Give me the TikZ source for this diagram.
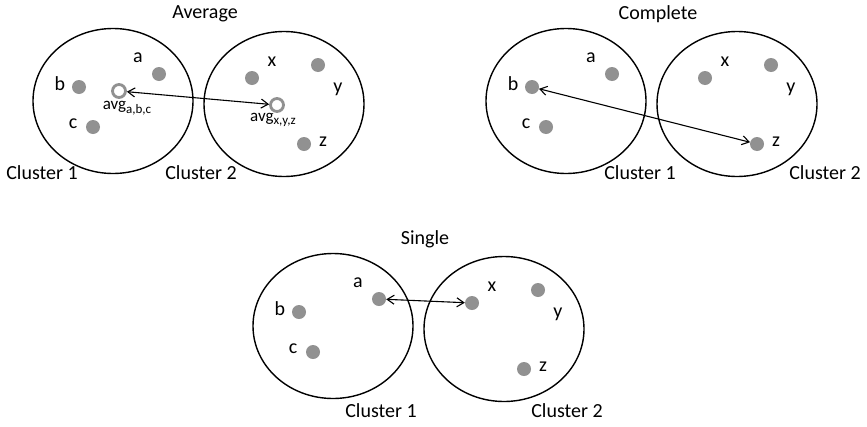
\documentclass[tikz,border=0pt]{standalone}
\usepackage{fontspec}
\setmainfont{Carlito}
\usetikzlibrary{arrows.meta,positioning,shapes.geometric}
\definecolor{dotgray}{RGB}{145,145,145}
\newcommand{\lowtag}[1]{\raisebox{-3.5pt}{\fontsize{13}{15}\selectfont #1}}
\tikzset{clus/.style={draw,ellipse,line width=1.4pt,minimum width=160pt,minimum height=145pt,inner sep=0pt},
  pt/.style={circle,fill=dotgray,minimum size=14pt,inner sep=0pt},
  ctr/.style={circle,draw=dotgray,line width=2.8pt,fill=white,minimum size=13pt,inner sep=0pt},
  lbl/.style={inner sep=0pt,font=\fontsize{20}{24}\selectfont},
  sub/.style={inner sep=0pt,font=\fontsize{17}{20}\selectfont},
  link/.style={{Straight Barb[length=7pt,width=9pt]}-{Straight Barb[length=7pt,width=9pt]},line width=1.1pt}}
\begin{document}
\begin{tikzpicture}[x=1pt,y=-1pt]
\useasboundingbox (0,0) rectangle (867,426);
% three panels with the same two clusters
\foreach \p/\sx/\sy/\ttl in {avg/0/0/Average,com/453/0/Complete,sgl/220/225/Single}{
  \begin{scope}[shift={(\sx,\sy)}]
    \node[lbl] (\p-title) at (205,14) {\ttl};
    \node[clus] (\p-c1) at (113,101) {};
    \node[clus] (\p-c2) at (284,104) {};
    \node[pt] (\p-a) at (159,74) {};
    \node[pt] (\p-b) at (79,87) {};
    \node[pt] (\p-c) at (93,127) {};
    \node[pt] (\p-x) at (252,78) {};
    \node[pt] (\p-y) at (318,65) {};
    \node[pt] (\p-z) at (304,144) {};
    \node[lbl] (\p-la) at (138,58) {a};
    \node[lbl] (\p-lb) at (60,84) {b};
    \node[lbl] (\p-lc) at (73,124) {c};
    \node[lbl] (\p-lx) at (272,62) {x};
    \node[lbl] (\p-ly) at (338,89) {y};
    \node[lbl] (\p-lz) at (323,142) {z};
  \end{scope}
}
% average linkage
\node[ctr] (avg-m1) at (119,91) {};
\node[ctr] (avg-m2) at (277,105) {};
\node[sub] (avg-lm1) at (127,108) {avg\lowtag{a,b,c}};
\node[sub] (avg-lm2) at (273,120) {avg\lowtag{x,y,z}};
\draw[link] (avg-m1) -- (avg-m2);
\node[lbl] (avg-n1) at (42,173) {Cluster 1};
\node[lbl] (avg-n2) at (201,173) {Cluster 2};
% complete linkage
\draw[link] (com-b) -- (com-z);
\node[lbl] (com-n1) at (640,173) {Cluster 1};
\node[lbl] (com-n2) at (825,173) {Cluster 2};
% single linkage
\draw[link] (sgl-a) -- (sgl-x);
\node[lbl] (sgl-n1) at (381,411) {Cluster 1};
\node[lbl] (sgl-n2) at (567,411) {Cluster 2};
\end{tikzpicture}
\end{document}
